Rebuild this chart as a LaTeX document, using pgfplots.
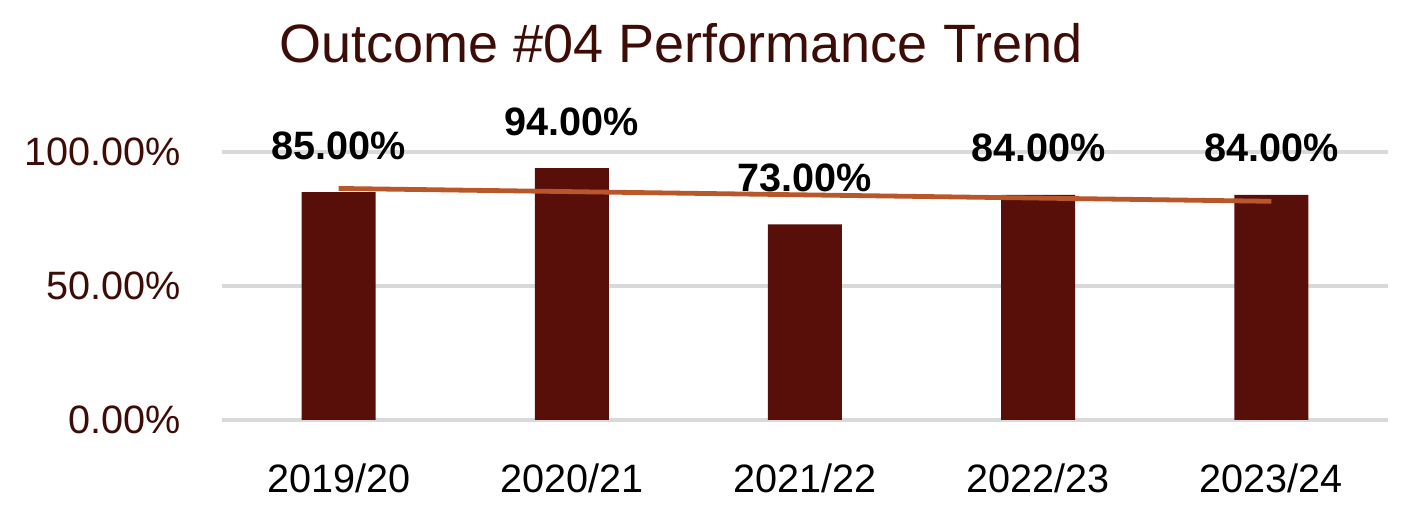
\documentclass[border=0pt]{standalone}
\usepackage{fontspec}
\setmainfont{Liberation Sans}
\usepackage{pgfplots}
\pgfplotsset{compat=1.18}
\definecolor{barc}{HTML}{590F09}
\definecolor{trendc}{HTML}{B9572A}
\definecolor{titlec}{HTML}{3D0C06}
\definecolor{gridc}{HTML}{D9D9D9}
\begin{document}
\begin{tikzpicture}
\path[use as bounding box] (-111pt,-54pt) rectangle (599pt,210pt);
\begin{axis}[
  scale only axis,
  width=583pt, height=134pt,
  xmin=-0.5, xmax=4.5,
  ymin=0, ymax=100,
  clip=false,
  axis line style={draw=none},
  major tick length=0pt,
  ymajorgrids,
  grid style={color=gridc, line width=2.4pt},
  xtick={0,1,2,3,4},
  xticklabels={2019/20,2020/21,2021/22,2022/23,2023/24},
  ytick={0,50,100},
  yticklabels={0.00\%,50.00\%,100.00\%},
  ticklabel style={font=\fontsize{19.8}{24}\selectfont},
  xticklabel style={anchor=base, inner sep=0pt, yshift=-36.5pt, text=black},
  yticklabel style={anchor=east, inner sep=0pt, xshift=-20.5pt, text=titlec},
  /pgf/number format/assume math mode=true,
]
\addplot[ybar, bar width=37pt, fill=barc, draw=none,
  nodes near coords={\pgfmathprintnumber[fixed,fixed zerofill,precision=2]{\pgfplotspointmeta}\%},
  nodes near coords style={anchor=base, inner sep=0pt, yshift=16.5pt, font=\fontsize{19.8}{24}\selectfont\bfseries, text=black}]
  coordinates {(0,85) (1,94) (2,73) (3,84) (4,84)};
\addplot[color=trendc, line width=2.4pt, no markers] coordinates {(0,86.4) (4,81.6)};
\end{axis}
\node[anchor=base, text=titlec, font=\fontsize{27}{32}\selectfont] at (229.5pt,178.5pt) {Outcome \#04 Performance Trend};
\end{tikzpicture}
\end{document}
